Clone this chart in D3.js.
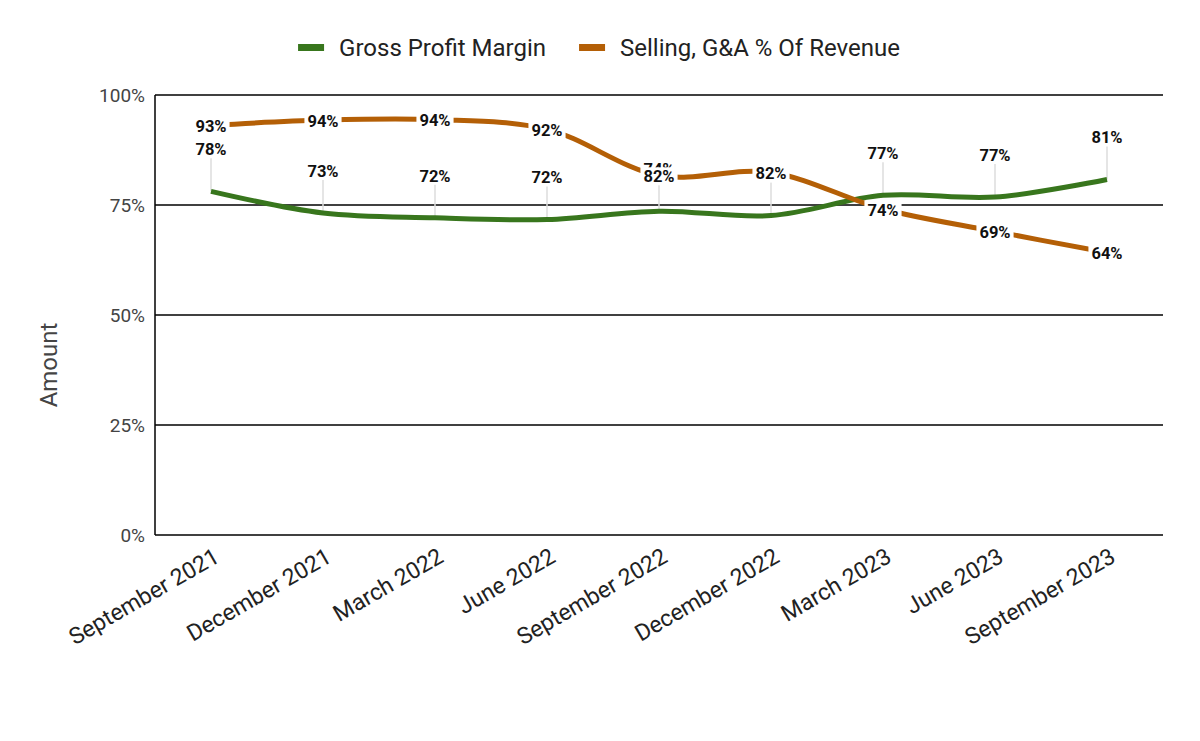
<!DOCTYPE html>
<html><head><meta charset="utf-8">
<script src="https://cdn.jsdelivr.net/npm/d3@7"></script>
<style>body{margin:0;background:#fff}svg{display:block;font-family:Roboto,sans-serif}</style>
</head><body><svg id="c" width="1200" height="741"></svg>
<script>
const categories = ["September 2021","December 2021","March 2022","June 2022","September 2022","December 2022","March 2023","June 2023","September 2023"];
const grossProfitMargin = [78.1, 73.2, 72.1, 71.7, 73.6, 72.6, 77.2, 76.8, 80.8];
const sgaPctRevenue = [93.1, 94.3, 94.4, 92.2, 81.7, 82.4, 74.1, 69.0, 64.2];
const yTicks = [0, 25, 50, 75, 100];
const seriesNames = ["Gross Profit Margin", "Selling, G&A % Of Revenue"];
const colors = ["#38761d", "#b45f06"];

const svg = d3.select("#c");
const L = 155, R = 1163, T = 95, B = 535;
const x = d3.scaleBand().domain(categories).range([L, R]);
const y = d3.scaleLinear().domain([0, 100]).range([B, T]);
const cx = d => x(d) + x.bandwidth() / 2;

// gridlines
svg.append("g").selectAll("line").data(yTicks).join("line")
  .attr("x1", L).attr("x2", R).attr("y1", d => y(d)).attr("y2", d => y(d))
  .attr("stroke", "#000").attr("stroke-width", 1.5);
svg.append("line").attr("x1", L).attr("x2", L).attr("y1", T).attr("y2", B).attr("stroke", "#000").attr("stroke-width", 1.5);

// y labels
svg.append("g").selectAll("text").data(yTicks).join("text")
  .attr("x", L - 10).attr("y", d => y(d)).attr("dy", "0.35em")
  .attr("text-anchor", "end").attr("font-size", 19).attr("fill", "#444")
  .text(d => d + "%");
svg.append("text").attr("transform", `translate(57,365) rotate(-90)`)
  .attr("text-anchor", "middle").attr("font-size", 24).attr("fill", "#444").text("Amount");

// x labels
svg.append("g").selectAll("text").data(categories).join("text")
  .attr("transform", d => `translate(${cx(d) + 10},${B + 26}) rotate(-30)`)
  .attr("text-anchor", "end").attr("font-size", 23).attr("fill", "#222")
  .text(d => d);

const line = d3.line().x((d, i) => cx(categories[i])).y(d => y(d)).curve(d3.curveCatmullRom.alpha(0.5));

// green leader lines
svg.append("g").selectAll("line").data(grossProfitMargin).join("line")
  .attr("x1", (d, i) => cx(categories[i])).attr("x2", (d, i) => cx(categories[i]))
  .attr("y1", d => y(d)).attr("y2", d => y(d) - 33)
  .attr("stroke", "#ddd").attr("stroke-width", 1.5);

svg.append("path").datum(grossProfitMargin).attr("d", line).attr("fill", "none")
  .attr("stroke", colors[0]).attr("stroke-width", 5);
svg.append("path").datum(sgaPctRevenue).attr("d", line).attr("fill", "none")
  .attr("stroke", colors[1]).attr("stroke-width", 5);

// green labels
svg.append("g").selectAll("text").data(grossProfitMargin).join("text")
  .attr("x", (d, i) => cx(categories[i])).attr("y", d => y(d) - 42).attr("dy", "0.35em")
  .attr("text-anchor", "middle").attr("font-size", 16.5).attr("font-weight", "bold").attr("fill", "#111")
  .text(d => Math.round(d) + "%");

// orange labels with white background
const og = svg.append("g");
sgaPctRevenue.forEach((d, i) => {
  const g = og.append("g");
  const t = g.append("text").attr("x", cx(categories[i])).attr("y", y(d) + 1).attr("dy", "0.35em")
    .attr("text-anchor", "middle").attr("font-size", 16.5).attr("font-weight", "bold").attr("fill", "#111")
    .text(Math.round(d) + "%");
  const bb = t.node().getBBox();
  g.insert("rect", "text").attr("x", bb.x - 3).attr("y", bb.y).attr("width", bb.width + 6).attr("height", bb.height - 1).attr("fill", "#fff");
});

// legend
const lg = svg.append("g");
let lx = 0;
seriesNames.forEach((n, i) => {
  lg.append("rect").attr("x", lx).attr("y", 44).attr("width", 26).attr("height", 7).attr("fill", colors[i]);
  const t = lg.append("text").attr("x", lx + 41).attr("y", 48).attr("dy", "0.35em").attr("font-size", 24).attr("fill", "#222").text(n);
  lx += 41 + t.node().getComputedTextLength() + 33;
});
const lw = lx - 33;
lg.attr("transform", `translate(${(300 + 898) / 2 - lw / 2},0)`);
</script></body></html>
